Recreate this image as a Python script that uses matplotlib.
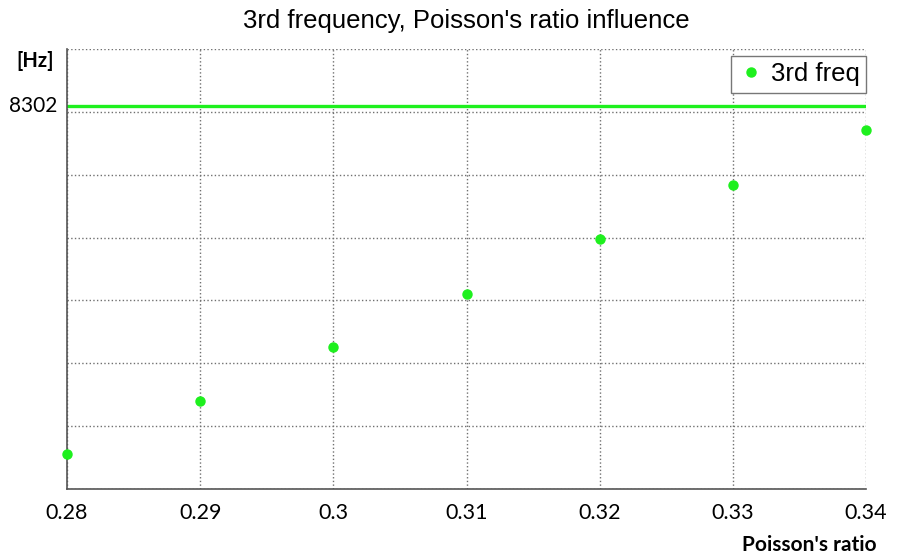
import matplotlib
matplotlib.use('Agg')
import matplotlib.pyplot as plt
import numpy as np

# data
poisson = [0.28, 0.29, 0.30, 0.31, 0.32, 0.33, 0.34]
freq3 = [8191.1, 8207.9, 8225.1, 8241.9, 8259.4, 8276.8, 8294.3]
ref_freq = 8302
x_ticks = [0.28, 0.29, 0.30, 0.31, 0.32, 0.33, 0.34]
x_labels = ['0.28', '0.29', '0.3', '0.31', '0.32', '0.33', '0.34']
y_grid = [8180, 8200, 8220, 8240, 8260, 8280, 8300, 8320]

green = '#1ef01e'

fig = plt.figure(figsize=(8.98, 5.57), dpi=100)
ax = fig.add_axes([0.0746, 0.1221, 0.8898, 0.7899])

ax.plot(poisson, freq3, 'o', color=green, markersize=6.5, label='3rd freq',
        clip_on=False, zorder=3)
ax.axhline(ref_freq, color=green, linewidth=2.4, zorder=2)

ax.set_xlim(0.28, 0.34)
ax.set_ylim(8180, 8320)
ax.set_xticks(x_ticks)
ax.set_xticklabels(x_labels, fontfamily='Lato', fontsize=15.5)
ax.set_yticks(y_grid)
ax.set_yticklabels([])
ax.tick_params(axis='both', length=0)
ax.tick_params(axis='x', pad=10)

ax.grid(True, linestyle=':', color='#707070', linewidth=1.0)
ax.set_axisbelow(True)
for s in ['top', 'right']:
    ax.spines[s].set_visible(False)
for s in ['left', 'bottom']:
    ax.spines[s].set_color('#555555')
    ax.spines[s].set_linewidth(1.2)

ax.set_title("3rd frequency, Poisson's ratio influence", fontfamily='Liberation Sans',
             fontsize=18.5, pad=15)

# y label "8302" next to the reference line and the unit on top
ax.text(-0.012, ref_freq, '8302', transform=ax.get_yaxis_transform(),
        ha='right', va='center', fontfamily='Lato', fontsize=15)
fig.text(0.018, 0.89, '[Hz]', ha='left', va='center', fontfamily='Lato',
         fontsize=14.5, fontweight='bold')
fig.text(0.976, 0.022, "Poisson's ratio", ha='right', va='center',
         fontfamily='Lato', fontsize=15, fontweight='bold')

leg = ax.legend(loc='upper right', bbox_to_anchor=(1.0, 0.984), borderaxespad=0,
                fancybox=False, framealpha=1, edgecolor='#777777',
                prop={'family': 'Liberation Sans', 'size': 18.5},
                handletextpad=0.2, handlelength=1.1, borderpad=0.25)
leg.get_frame().set_linewidth(1.0)

plt.savefig('out.png', dpi=100)
plt.close()
